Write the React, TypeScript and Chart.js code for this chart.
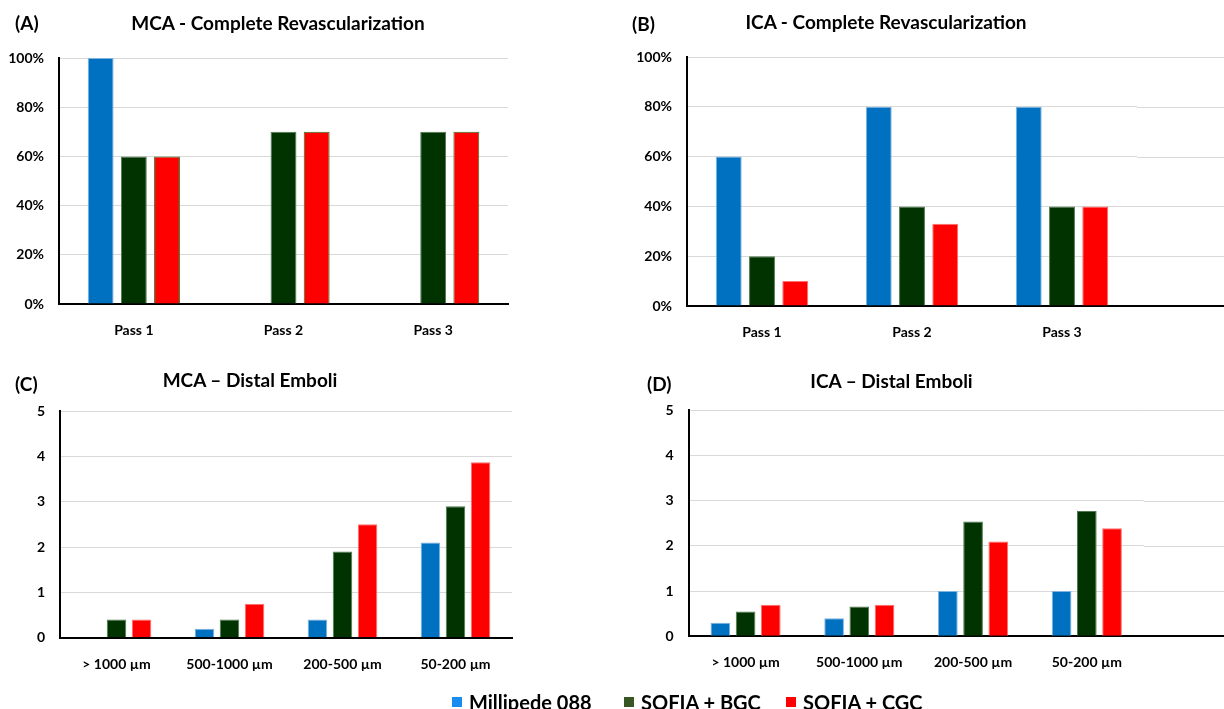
import React, { useEffect, useRef } from "react";
import { Chart, registerables } from "chart.js";

Chart.register(...registerables);

// ---------- data ----------
const passCategories = ["Pass 1", "Pass 2", "Pass 3"];
const sizeCategories = ["> 1000 µm", "500-1000 µm", "200-500 µm", "50-200 µm"];
const seriesNames = ["Millipede 088", "SOFIA + BGC", "SOFIA + CGC"];

const mcaRevascMillipede = [100, 0, 0];
const mcaRevascBGC = [60, 70, 70];
const mcaRevascCGC = [60, 70, 70];

const icaRevascMillipede = [60, 80, 80];
const icaRevascBGC = [20, 40, 40];
const icaRevascCGC = [10, 33, 40];

const mcaEmboliMillipede = [0, 0.2, 0.4, 2.1];
const mcaEmboliBGC = [0.4, 0.4, 1.9, 2.9];
const mcaEmboliCGC = [0.4, 0.75, 2.5, 3.87];

const icaEmboliMillipede = [0.3, 0.4, 1.0, 1.0];
const icaEmboliBGC = [0.55, 0.66, 2.54, 2.77];
const icaEmboliCGC = [0.7, 0.7, 2.1, 2.39];

const percentTickLabels = ["0%", "20%", "40%", "60%", "80%", "100%"];
const countTickLabels = ["0", "1", "2", "3", "4", "5"];

// ---------- styles ----------
const FONT = "Lato";
const BLUE = "#0070C0";
const GREEN = "#003300";
const RED = "#FF0000";

const extendGridPlugin = {
  id: "extendGrid",
  beforeDatasetsDraw(chart: any, _args: any, opts: any) {
    if (!opts || !opts.enabled) return;
    const { ctx, chartArea, scales } = chart;
    const y = scales.y;
    const w = chart.width;
    ctx.save();
    ctx.strokeStyle = "#d9d9d9";
    ctx.lineWidth = 1;
    y.ticks.forEach((t: any) => {
      const py = Math.round(y.getPixelForValue(t.value)) + 0.5;
      if (t.value === 0) return;
      ctx.beginPath();
      ctx.moveTo(chartArea.right, py);
      ctx.lineTo(w, py);
      ctx.stroke();
    });
    ctx.fillStyle = "#000";
    const b = Math.round(chartArea.bottom);
    ctx.fillRect(chartArea.right - 1, b - 1, w - chartArea.right + 1, 2);
    ctx.restore();
  },
};

type PanelProps = {
  left: number;
  top: number;
  width: number;
  height: number;
  labels: string[];
  series: number[][];
  max: number;
  step: number;
  tickLabels: string[];
  area: { left: number; right: number; top: number; bottom: number };
  extend: boolean;
  redBorder: string;
  xLabelPad: number;
};

function Panel(p: PanelProps) {
  const ref = useRef<HTMLCanvasElement | null>(null);
  useEffect(() => {
    if (!ref.current) return;
    const xAxisH = 40;
    const colors = [BLUE, GREEN, RED];
    const borders = ["#7FB2E0", "#4F7A4F", p.redBorder];
    const chart = new Chart(ref.current, {
      type: "bar",
      data: {
        labels: p.labels,
        datasets: p.series.map((d, i) => ({
          label: seriesNames[i],
          data: d,
          backgroundColor: colors[i],
          borderColor: borders[i],
          borderWidth: (c: any) => (c.raw === 0 ? 0 : 1),
          borderSkipped: "bottom",
          categoryPercentage: 0.665,
          barPercentage: 0.78,
        })),
      },
      options: {
        responsive: false,
        maintainAspectRatio: false,
        animation: false,
        events: [],
        layout: {
          padding: {
            left: 0,
            top: p.area.top,
            right: p.width - p.area.right,
            bottom: p.height - p.area.bottom - xAxisH,
          },
        },
        plugins: {
          legend: { display: false },
          title: { display: false },
          tooltip: { enabled: false },
          extendGrid: { enabled: p.extend },
        } as any,
        scales: {
          x: {
            grid: { display: false, drawTicks: false },
            border: { display: true, color: "#000", width: 2 },
            ticks: {
              color: "#000",
              font: { family: FONT, size: 14, weight: "bold" },
              padding: p.xLabelPad,
              maxRotation: 0,
              autoSkip: false,
            },
            afterFit: (s: any) => {
              s.height = xAxisH;
            },
          },
          y: {
            min: 0,
            max: p.max,
            grid: { color: "#d9d9d9", lineWidth: 1, drawTicks: false },
            border: { display: true, color: "#000", width: 2 },
            ticks: {
              stepSize: p.step,
              color: "#000",
              font: { family: FONT, size: 14, weight: "bold" },
              padding: 15,
              callback: (_v: any, i: number) => p.tickLabels[i],
            },
            afterFit: (s: any) => {
              s.width = p.area.left;
            },
          },
        },
      },
      plugins: [extendGridPlugin as any],
    });
    return () => chart.destroy();
  }, []);
  return (
    <canvas
      ref={ref}
      width={p.width}
      height={p.height}
      style={{ position: "absolute", left: p.left, top: p.top, width: p.width, height: p.height }}
    />
  );
}

function Text(props: { x: number; y: number; size: number; text: string; align?: "left" | "center" }) {
  const { x, y, size, text, align = "center" } = props;
  const top = y - 0.529 * size;
  const style: React.CSSProperties = {
    position: "absolute",
    top,
    fontFamily: FONT,
    fontWeight: 700,
    fontSize: size,
    lineHeight: `${size}px`,
    color: "#000",
    whiteSpace: "nowrap",
  };
  if (align === "center") {
    style.left = x - 300;
    style.width = 600;
    style.textAlign = "center";
  } else {
    style.left = x;
  }
  return <div style={style}>{text}</div>;
}

const legendColors = ["#1A8CF0", "#375623", "#FF0000"];
const legendX = [452, 624, 786];

export default function App() {
  return (
    <div
      style={{
        position: "fixed",
        left: 0,
        top: 0,
        width: 1224,
        height: 709,
        background: "#fff",
        overflow: "hidden",
      }}
    >
      <Panel
        left={0}
        top={0}
        width={612}
        height={355}
        labels={passCategories}
        series={[mcaRevascMillipede, mcaRevascBGC, mcaRevascCGC]}
        max={100}
        step={20}
        tickLabels={percentTickLabels}
        area={{ left: 59, right: 508, top: 58, bottom: 304 }}
        extend={false}
        redBorder="#1F7A1F"
        xLabelPad={18}
      />
      <Panel
        left={612}
        top={0}
        width={612}
        height={355}
        labels={passCategories}
        series={[icaRevascMillipede, icaRevascBGC, icaRevascCGC]}
        max={100}
        step={20}
        tickLabels={percentTickLabels}
        area={{ left: 75, right: 525, top: 57, bottom: 306 }}
        extend={true}
        redBorder="#FF7070"
        xLabelPad={18}
      />
      <Panel
        left={0}
        top={355}
        width={612}
        height={354}
        labels={sizeCategories}
        series={[mcaEmboliMillipede, mcaEmboliBGC, mcaEmboliCGC]}
        max={5}
        step={1}
        tickLabels={countTickLabels}
        area={{ left: 60, right: 512, top: 56, bottom: 282.7 }}
        extend={false}
        redBorder="#FF7070"
        xLabelPad={18}
      />
      <Panel
        left={612}
        top={355}
        width={612}
        height={354}
        labels={sizeCategories}
        series={[icaEmboliMillipede, icaEmboliBGC, icaEmboliCGC]}
        max={5}
        step={1}
        tickLabels={countTickLabels}
        area={{ left: 76.7, right: 531.7, top: 55.3, bottom: 281.3 }}
        extend={true}
        redBorder="#FF7070"
        xLabelPad={18}
      />

      <Text x={15} y={23.5} size={19} text="(A)" align="left" />
      <Text x={278} y={23} size={19} text="MCA - Complete Revascularization" />
      <Text x={632} y={24} size={19} text="(B)" align="left" />
      <Text x={886} y={22} size={19} text="ICA - Complete Revascularization" />
      <Text x={15} y={384} size={19} text="(C)" align="left" />
      <Text x={250} y={380.5} size={19} text="MCA – Distal Emboli" />
      <Text x={647} y={384} size={19} text="(D)" align="left" />
      <Text x={891.5} y={381} size={19} text="ICA – Distal Emboli" />

      {seriesNames.map((n, i) => (
        <React.Fragment key={n}>
          <div
            style={{
              position: "absolute",
              left: legendX[i],
              top: 697,
              width: 10,
              height: 10,
              background: legendColors[i],
            }}
          />
          <div
            style={{
              position: "absolute",
              left: legendX[i] + 17,
              top: 692,
              fontFamily: FONT,
              fontWeight: 700,
              fontSize: 20,
              lineHeight: "20px",
              color: "#000",
              whiteSpace: "nowrap",
            }}
          >
            {n}
          </div>
        </React.Fragment>
      ))}
    </div>
  );
}
